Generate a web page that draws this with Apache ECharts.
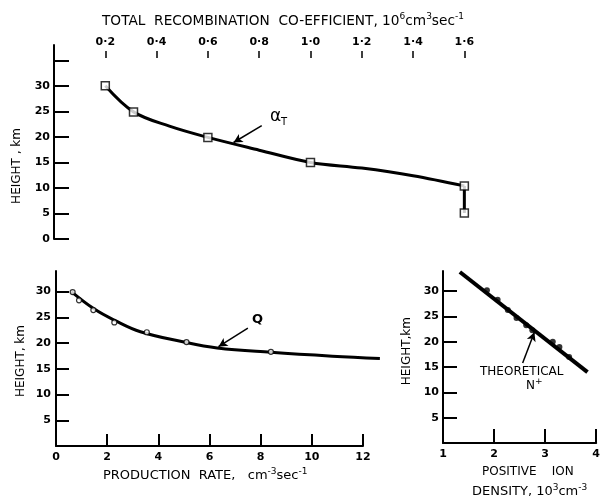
<!DOCTYPE html>
<html>
<head>
<meta charset="utf-8">
<script src="https://cdn.jsdelivr.net/npm/echarts@6/dist/echarts.min.js"></script>
<style>
html,body{margin:0;padding:0;background:#fff;}
#chart{width:603px;height:503px;}
</style>
</head>
<body>
<div id="chart"></div>
<script>
(function(){
	"use strict";

	// top panel: total recombination coefficient vs height
	var alphaTicks = [0.2, 0.4, 0.6, 0.8, 1.0, 1.2, 1.4, 1.6];
	var alphaPoints = [[0.2, 30], [0.31, 24.9], [0.6, 19.9], [1.0, 15], [1.6, 10.4], [1.6, 5.1]];
	var alphaCurve = [[0.2, 30], [0.31, 24.9], [0.45, 22.1], [0.6, 19.9], [0.8, 17.4], [1.0, 15], [1.2, 13.9], [1.4, 12.4], [1.6, 10.4]];
	var alphaDrop = [[1.6, 10.4], [1.6, 5.1]];
	var heightTicksTop = [0, 5, 10, 15, 20, 25, 30, 35];
	var heightLabelsTop = [0, 5, 10, 15, 20, 25, 30];

	// bottom left: production rate
	var rateTicks = [2, 4, 6, 8, 10, 12];
	var rateLabels = [0, 2, 4, 6, 8, 10, 12];
	var qPoints = [[0.65, 29.9], [0.9, 28.3], [1.46, 26.4], [2.28, 24.0], [3.55, 22.1], [5.1, 20.2], [8.4, 18.3]];
	var qCurve = [[0.6, 30], [1.5, 26.6], [2.3, 24.4], [3.3, 22.2], [5.0, 20.2], [6.3, 19.05], [8.4, 18.2], [10.8, 17.45], [12.66, 17.0]];

	// bottom right: positive ion density
	var densTicks = [2, 3, 4];
	var densLabels = [1, 2, 3, 4];
	var nTheory = [[1.33, 33.8], [3.83, 14.0]];
	var nPoints = [[1.86, 30.2], [2.07, 28.3], [2.27, 26.3], [2.44, 24.7], [2.63, 23.3], [2.75, 22.3], [3.15, 20.0], [3.28, 19.0], [3.47, 17.0]];
	var heightTicks = [5, 10, 15, 20, 25, 30];

	var FONT = '"DejaVu Sans", sans-serif';
	var lbl = {color: '#000', fontFamily: FONT, fontSize: 11, fontWeight: 'bold'};
	var dot = function(v){ return v.toFixed(1).replace('.', '\u00b7'); };
	var axisLine = {show: true, onZero: false, lineStyle: {color: '#000', width: 2}};

	var arrow = function(from, to){
		return {
			silent: true, animation: false,
			symbol: ['none', 'arrow'], symbolSize: [7, 9],
			lineStyle: {color: '#000', width: 1.5, type: 'solid'},
			label: {show: false},
			data: [[{coord: from}, {coord: to}]]
		};
	};

	var richText = function(x, y, text, size){
		return {
			type: 'text', left: x, top: y,
			style: {
				text: text, fill: '#000', font: size + 'px ' + FONT,
				lineHeight: 18,
				rich: {s: {fontFamily: FONT, fontSize: 9, verticalAlign: 'top', lineHeight: 18}}
			}
		};
	};
	var vText = function(x, y, text, size){
		return {type: 'text', left: x, top: y, rotation: Math.PI / 2,
			style: {text: text, fill: '#000', font: size + 'px ' + FONT}};
	};

	var option = {
		animation: false,
		backgroundColor: '#fff',
		grid: [
			{left: 54, top: 45, width: 436, height: 194},
			{left: 56, top: 271, width: 307, height: 175},
			{left: 443, top: 271, width: 154, height: 172},
			{left: 54, top: 51, width: 436, height: 7},
			// same scale as grid 1, wider so the Q curve can run past the last tick
			{left: 56, top: 271, width: 307 * 13 / 12, height: 175}
		],
		xAxis: [
			{gridIndex: 0, type: 'value', min: 0, max: 1.7, show: false},
			{gridIndex: 1, type: 'value', min: 0, max: 12,
				axisLine: axisLine, splitLine: {show: false},
				axisTick: {inside: true, length: 12, lineStyle: {color: '#000', width: 2}, customValues: rateTicks},
				axisLabel: Object.assign({customValues: rateLabels, margin: 6}, lbl)},
			{gridIndex: 2, type: 'value', min: 1, max: 4,
				axisLine: axisLine, splitLine: {show: false},
				axisTick: {inside: true, length: 14, lineStyle: {color: '#000', width: 2}, customValues: densTicks},
				axisLabel: Object.assign({customValues: densLabels, margin: 6}, lbl)},
			{gridIndex: 3, type: 'value', position: 'top', min: 0, max: 1.7,
				axisLine: {show: false}, splitLine: {show: false},
				axisTick: {show: true, length: 7, lineStyle: {color: '#000', width: 1.5}, customValues: alphaTicks},
				axisLabel: Object.assign({customValues: alphaTicks, formatter: dot, margin: 3}, lbl)},
			{gridIndex: 4, type: 'value', min: 0, max: 13, show: false}
		],
		yAxis: [
			{gridIndex: 0, type: 'value', min: 0, max: 38,
				axisLine: axisLine, splitLine: {show: false},
				axisTick: {inside: true, length: 15, lineStyle: {color: '#000', width: 2}, customValues: heightTicksTop},
				axisLabel: Object.assign({customValues: heightLabelsTop, margin: 4}, lbl)},
			{gridIndex: 1, type: 'value', min: 0, max: 34,
				axisLine: axisLine, splitLine: {show: false},
				axisTick: {inside: true, length: 13, lineStyle: {color: '#000', width: 2}, customValues: heightTicks},
				axisLabel: Object.assign({customValues: heightTicks, margin: 5}, lbl)},
			{gridIndex: 2, type: 'value', min: 0, max: 34,
				axisLine: axisLine, splitLine: {show: false},
				axisTick: {inside: true, length: 14, lineStyle: {color: '#000', width: 2}, customValues: heightTicks},
				axisLabel: Object.assign({customValues: heightTicks, margin: 4}, lbl)},
			{gridIndex: 3, type: 'value', min: 0, max: 1, show: false},
			{gridIndex: 4, type: 'value', min: 0, max: 34, show: false}
		],
		series: [
			{type: 'line', xAxisIndex: 0, yAxisIndex: 0, data: alphaCurve, smooth: 0.35, symbol: 'none',
				lineStyle: {color: '#000', width: 3}, markLine: arrow([0.81, 22.2], [0.70, 18.9])},
			{type: 'line', xAxisIndex: 0, yAxisIndex: 0, data: alphaDrop, symbol: 'none',
				lineStyle: {color: '#000', width: 3}},
			{type: 'scatter', xAxisIndex: 0, yAxisIndex: 0, data: alphaPoints, symbol: 'rect', symbolSize: 8, z: 5,
				itemStyle: {color: '#fff', borderColor: '#000', borderWidth: 1.5}},
			{type: 'line', xAxisIndex: 4, yAxisIndex: 4, data: qCurve, smooth: 0.4, symbol: 'none',
				lineStyle: {color: '#000', width: 3}, markLine: arrow([7.5, 22.9], [6.35, 19.3])},
			{type: 'scatter', xAxisIndex: 1, yAxisIndex: 1, data: qPoints, symbol: 'circle', symbolSize: 5, z: 5,
				itemStyle: {color: '#fff', borderColor: '#000', borderWidth: 1.2}},
			{type: 'line', xAxisIndex: 2, yAxisIndex: 2, data: nTheory, symbol: 'none',
				lineStyle: {color: '#000', width: 4}, markLine: arrow([2.56, 15.8], [2.79, 21.9])},
			{type: 'scatter', xAxisIndex: 2, yAxisIndex: 2, data: nPoints, symbol: 'circle', symbolSize: 6, z: 5,
				itemStyle: {color: '#000'}}
		],
		graphic: [
			richText(102, 12, 'TOTAL  RECOMBINATION  CO-EFFICIENT, 10{s|6}cm{s|3}sec{s|-1}', 13.7),
			vText(11, 128, 'HEIGHT , km', 12),
			vText(15, 325, 'HEIGHT, km', 12),
			vText(401, 317, 'HEIGHT,km', 12),
			richText(103, 467, 'PRODUCTION  RATE,   cm{s|-3}sec{s|-1}', 13),
			{type: 'text', left: 482, top: 466, style: {text: 'POSITIVE    ION', fill: '#000', font: '12px ' + FONT}},
			richText(472, 483, 'DENSITY, 10{s|3}cm{s|-3}', 13),
			{type: 'text', left: 270, top: 108, style: {text: '\u03b1', fill: '#000', font: '17px ' + FONT}},
			{type: 'text', left: 281, top: 117, style: {text: 'T', fill: '#000', font: '10px ' + FONT}},
			{type: 'text', left: 252, top: 313, style: {text: 'Q', fill: '#000', font: 'bold 13px ' + FONT}},
			{type: 'text', left: 480, top: 366, style: {text: 'THEORETICAL', fill: '#000', font: '12px ' + FONT}},
			richText(526, 377, 'N{s|+}', 12)
		]
	};

	var chart = echarts.init(document.getElementById('chart'));
	chart.setOption(option);
})();
</script>
</body>
</html>
